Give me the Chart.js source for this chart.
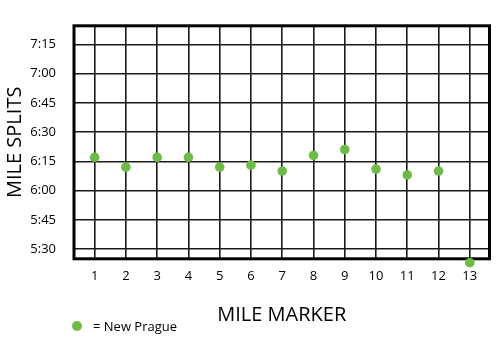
<!DOCTYPE html>
<html>
<head>
<meta charset="utf-8">
<script src="https://cdn.jsdelivr.net/npm/chart.js@4.4.0/dist/chart.umd.min.js"></script>
<style>
  html, body { margin: 0; padding: 0; background: #fff; }
  #wrap { position: relative; width: 500px; height: 340px; }
  #legend {
    position: absolute; left: 72px; top: 317px;
    font: 13px 'Open Sans', sans-serif; color: #000;
    display: flex; align-items: center; line-height: 18px;
  }
  #legend .dot { width: 10px; height: 10px; border-radius: 50%; background: #6cbb45; margin-right: 11px; }
</style>
</head>
<body>
<div id="wrap">
  <canvas id="chart" width="500" height="340"></canvas>
  <div id="legend"><span class="dot"></span><span>= New Prague</span></div>
</div>
<script>
// mile markers and split times (seconds per mile)
const MILES = [1, 2, 3, 4, 5, 6, 7, 8, 9, 10, 11, 12, 13];
const SPLITS = [377, 372, 377, 377, 372, 373, 370, 378, 381, 371, 368, 370, 323];
const Y_TICKS = [330, 345, 360, 375, 390, 405, 420, 435];
const X_TICKS = MILES;

const GREEN = '#6cbb45';
const FONT = "'Open Sans', sans-serif";

function fmtTime(sec) {
  const m = Math.floor(sec / 60);
  const s = sec % 60;
  return m + ':' + String(s).padStart(2, '0');
}

// thick frame around the plot area
const framePlugin = {
  id: 'frame',
  beforeDatasetsDraw(chart) {
    const { ctx, chartArea: a } = chart;
    ctx.save();
    ctx.strokeStyle = '#000';
    ctx.lineWidth = 3;
    ctx.strokeRect(a.left, a.top, a.right - a.left, a.bottom - a.top);
    ctx.restore();
  }
};

new Chart(document.getElementById('chart'), {
  type: 'scatter',
  data: {
    datasets: [{
      label: 'New Prague',
      data: MILES.map((m, i) => ({ x: m, y: SPLITS[i] })),
      backgroundColor: GREEN,
      borderWidth: 0,
      pointRadius: 4.8,
      clip: false
    }]
  },
  options: {
    responsive: false,
    animation: false,
    layout: { padding: { left: 0, top: 10, right: 10.5, bottom: 0 } },
    plugins: {
      legend: { display: false },
      tooltip: { enabled: false }
    },
    scales: {
      x: {
        type: 'linear',
        min: 0.34,
        max: 13.63,
        afterBuildTicks: (scale) => { scale.ticks = X_TICKS.map((v) => ({ value: v })); },
        afterFit: (scale) => { scale.height = 81.2; },
        grid: { color: '#1a1a1a', lineWidth: 1.6, drawTicks: false },
        border: { display: false },
        ticks: { padding: 10, color: '#000', font: { family: FONT, size: 13 } },
        title: {
          display: true,
          text: 'MILE MARKER',
          color: '#000',
          font: { family: FONT, size: 20 },
          padding: { top: 0, bottom: 13 }
        }
      },
      y: {
        min: 325,
        max: 444.5,
        afterBuildTicks: (scale) => { scale.ticks = Y_TICKS.map((v) => ({ value: v })); },
        afterFit: (scale) => { scale.width = 74; },
        grid: { color: '#1a1a1a', lineWidth: 1.6, drawTicks: false },
        border: { display: false },
        ticks: {
          padding: 18,
          color: '#000',
          font: { family: FONT, size: 13 },
          callback: (v) => fmtTime(v)
        },
        title: {
          display: true,
          text: 'MILE SPLITS',
          color: '#000',
          font: { family: FONT, size: 20 },
          padding: { top: 3, bottom: 0 }
        }
      }
    }
  },
  plugins: [framePlugin]
});
</script>
</body>
</html>
